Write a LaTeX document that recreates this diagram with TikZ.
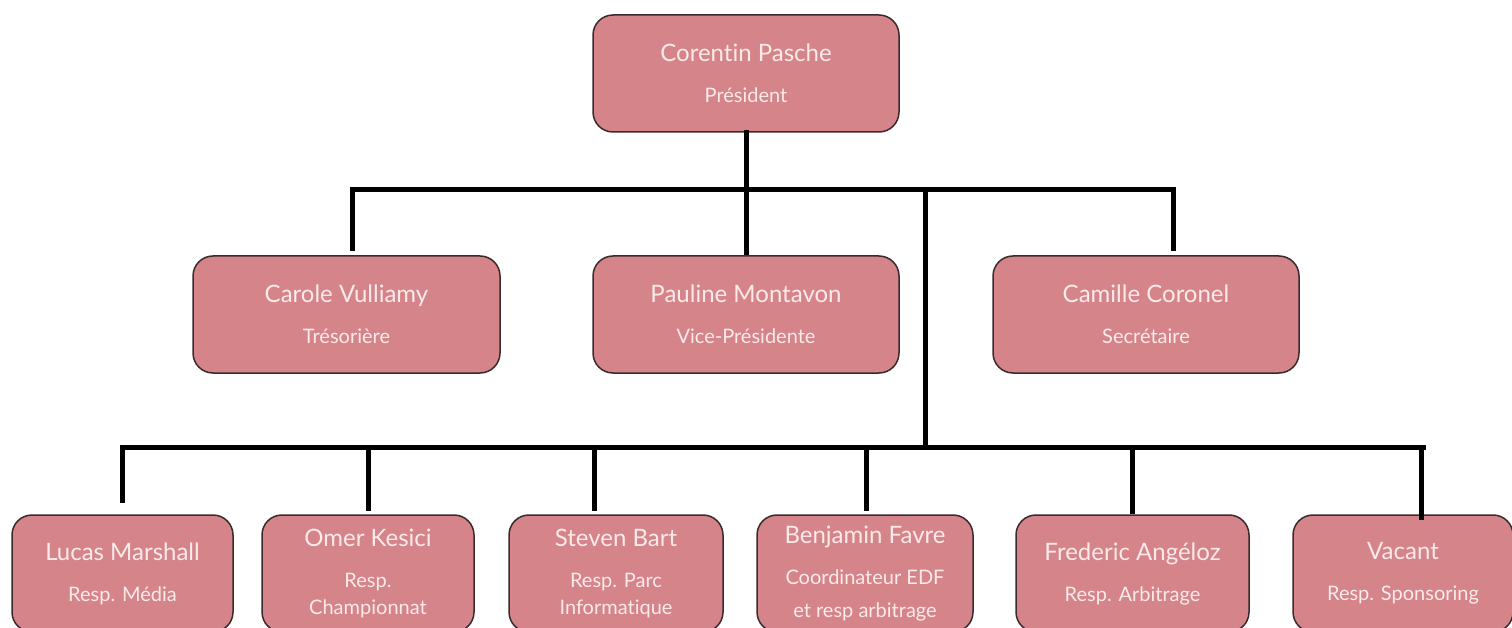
\documentclass[tikz,border=0pt]{standalone}
\usepackage{fontspec}
\setmainfont{Lato}[Ligatures=NoCommon]
\definecolor{boxfill}{HTML}{D5848A}
\definecolor{boxline}{HTML}{3A2A2C}
\definecolor{boxtext}{HTML}{FBEAEA}
\newcommand{\who}[1]{{\fontsize{24}{28}\selectfont #1}\\[14pt]}

\begin{document}
\begin{tikzpicture}[x=1pt, y=1pt,
  box/.style={draw=boxline, line width=1.5pt, fill=boxfill, rounded corners=20pt,
    text=boxtext, align=center, inner sep=0pt, minimum height=117pt,
    font=\fontsize{20}{27}\selectfont},
  link/.style={line width=5pt, line cap=rect}]
\clip (0,0) rectangle (1512,-628);

% bureau
\node[box, minimum width=306pt] (pres) at (746,-73.5) {\who{Corentin Pasche}Président};
\node[box, minimum width=307pt] (carole) at (346.5,-314.5) {\who{Carole Vulliamy}Trésorière};
\node[box, minimum width=306pt] (pauline) at (746,-314.5) {\who{Pauline Montavon}Vice-Présidente};
\node[box, minimum width=306pt] (camille) at (1146,-314.5) {\who{Camille Coronel}Secrétaire};

% responsables
\node[box, minimum width=221pt] (lucas) at (122.5,-573.5) {\who{Lucas Marshall}Resp. Média};
\node[box, minimum width=212pt] (omer) at (368,-573.5) {\who{Omer Kesici}Resp.\\Championnat};
\node[box, minimum width=214pt] (steven) at (616,-573.5) {\who{Steven Bart}Resp. Parc\\Informatique};
\node[box, minimum width=216pt] (benjamin) at (865,-573.5) {\who{Benjamin Favre}Coordinateur EDF\\[6pt]et resp arbitrage};
\node[box, minimum width=233pt] (frederic) at (1132.5,-573.5) {\who{Frederic Angéloz}Resp. Arbitrage};
\node[box, minimum width=220pt] (vacant) at (1403,-573.5) {\who{Vacant}Resp. Sponsoring};

% liaisons
\coordinate (topL) at (352,-190);
\coordinate (topR) at (1173,-190);
\coordinate (split) at (925,-190);
\coordinate (lowL) at (123,-447);
\coordinate (lowR) at (1423,-447);
\draw[link] (pres.south) -- (pres.south |- topL);
\draw[link] (topL) -- (topR);
\draw[link] (topL) -- ([yshift=6.5pt]carole.north -| topL);
\draw[link] (pres.south |- topL) -- ([yshift=2.5pt]pauline.north);
\draw[link] (topR) -- ([yshift=6.5pt]camille.north -| topR);
\draw[link] (split) -- ([yshift=4pt]split |- lowL);
\draw[link] (lowL) -- (lowR);
\foreach \n/\dx/\gap in {lucas/0/13.5, omer/0/5.5, steven/-22/5.5, benjamin/1/5.5, frederic/0/2.5, vacant/18/-3.5}
  \draw[link] ([xshift=\dx pt]\n.north |- lowL) -- ([xshift=\dx pt, yshift=\gap pt]\n.north);
\end{tikzpicture}
\end{document}
